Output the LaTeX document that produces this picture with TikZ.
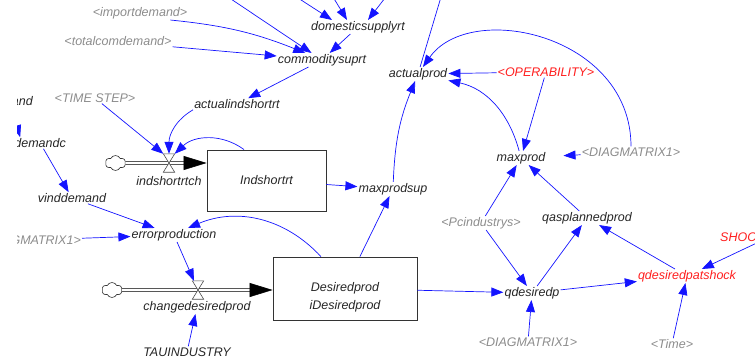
\documentclass[tikz,border=0pt]{standalone}
\usepackage{fontspec}
\setmainfont{Liberation Sans}
\usetikzlibrary{arrows.meta}
\usetikzlibrary{shapes.symbols}
\definecolor{vgray}{RGB}{140,140,140}
\definecolor{vred}{RGB}{255,30,30}
\definecolor{vblue}{RGB}{20,20,255}

\begin{document}
\begin{tikzpicture}[x=1pt,y=1pt,
  >={Triangle[length=12pt,width=9pt]},
  var/.style={inner sep=1pt,font=\fontsize{12.5}{15}\selectfont\itshape,text=black!85},
  shadowvar/.style={var,text=vgray},
  shockvar/.style={var,text=vred},
  stock/.style={draw=black!80,line width=0.8pt,inner sep=0pt,font=\fontsize{12.5}{15}\selectfont\itshape,text=black!85},
  link/.style={->,vblue,line width=0.7pt},
  pipe/.style={draw=black!75,line width=0.6pt,double=white,double distance=2.4pt},
  pipehead/.style={-{Triangle[length=23pt,width=14pt]},black,line width=0.6pt},
  gate/.style={minimum width=11pt,minimum height=18pt,inner sep=0pt},
  bowtie/.style={draw=black!70,fill=white,line width=0.6pt},
  source/.style={cloud,cloud puffs=6,cloud puff arc=130,aspect=1.3,draw=black!80,fill=white,line width=0.6pt,minimum width=20pt,minimum height=15pt,inner sep=0pt}]
\useasboundingbox (0,0) rectangle (755,360);
\clip (17,0) rectangle (755,360);

\node [shadowvar] (importdemand) at (140,347) {<importdemand>};
\node [shadowvar] (totalcomdemand) at (118,319) {<totalcomdemand>};
\node [var] (domesticsupplyrt) at (358,333) {domesticsupplyrt};
\node [var] (commoditysuprt) at (322,300) {commoditysuprt};
\node [var] (actualindshortrt) at (237,256) {actualindshortrt};
\node [shadowvar] (timestep) at (95,262) {<TIME STEP>};
\node [var,anchor=east] (andcut) at (34,259) {and};
\node [var,anchor=east] (demandc) at (67,217) {demandc};
\node [var] (vinddemand) at (72,162) {vinddemand};
\node [shadowvar,anchor=east] (diagleft) at (82,120) {<DIAGMATRIX1>};
\node [var] (errorproduction) at (174,125) {errorproduction};
\node [var] (changedesiredprod) at (197,53) {changedesiredprod};
\node [var] (tauindustry) at (187,8) {TAUINDUSTRY};
\node [var] (indshortrtch) at (169,179) {indshortrtch};
\node [var] (maxprodsup) at (393,171) {maxprodsup};
\node [var] (actualprod) at (418,286) {actualprod};
\node [shockvar] (operability) at (546,288) {<OPERABILITY>};
\node [var] (maxprod) at (521,202) {maxprod};
\node [shadowvar] (diagright) at (631,208) {<DIAGMATRIX1>};
\node [shadowvar] (pcindustrys) at (481,137) {<Pcindustrys>};
\node [var] (qasplannedprod) at (587,142) {qasplannedprod};
\node [var] (qdesiredp) at (532,67) {qdesiredp};
\node [shockvar] (qdesiredpatshock) at (687,84) {qdesiredpatshock};
\node [shockvar,anchor=west] (shockcut) at (719,123) {SHOC};
\node [shadowvar] (diagbottom) at (528,18) {<DIAGMATRIX1>};
\node [shadowvar] (time) at (672,16) {<Time>};

\node [stock,minimum width=119pt,minimum height=61pt] (Indshortrt) at (266.5,179.5) {Indshortrt};
\node [stock,minimum width=144pt,minimum height=63pt] (Desiredprod) at (345,71.5) {};
\node [var,align=center,font=\fontsize{12.5}{18}\selectfont\itshape] (Desiredlabel) at (345,63) {Desiredprod\\iDesiredprod};
\node [gate] (indvalve) at (169,197) {};
\node [gate] (desvalve) at (198,70) {};
\node [source] (cloudA) at (115.5,197) {};
\node [source] (cloudB) at (112,70) {};
\coordinate (indin) at (cloudA -| Indshortrt.west);
\coordinate (desin) at (cloudB -| Desiredprod.west);
\coordinate (topA) at (228,363);
\coordinate (topB) at (298,362);
\coordinate (topC) at (333,363);
\coordinate (topD) at (385,362);
\coordinate (topE) at (441,363);

\draw [pipe] (cloudA.east) -- ([xshift=-21pt]indin);
\draw [pipehead] ([xshift=-23pt]indin) -- (indin);
\draw [bowtie] (indvalve.north west) -- (indvalve.north east) -- (indvalve.south west) -- (indvalve.south east) -- cycle;
\draw [pipe] (cloudB.east) -- ([xshift=-21pt]desin);
\draw [pipehead] ([xshift=-23pt]desin) -- (desin);
\draw [bowtie] (desvalve.north west) -- (desvalve.north east) -- (desvalve.south west) -- (desvalve.south east) -- cycle;

\draw [link] (topA) -- (commoditysuprt);
\draw [link] (topB) -- ([xshift=-26pt]domesticsupplyrt.north);
\draw [link] (topC) -- ([xshift=-11pt]domesticsupplyrt.north);
\draw [link] (topD) -- ([xshift=10pt]domesticsupplyrt.north);
\draw [link] ([xshift=-18pt]importdemand.south east) to [bend left=8] (commoditysuprt);
\draw [link] (totalcomdemand.south east) -- (commoditysuprt);
\draw [link] (domesticsupplyrt) -- (commoditysuprt);
\draw [link] (commoditysuprt) -- (actualindshortrt);
\draw [link] (actualindshortrt.south west) to [out=210,in=90] (indvalve.north);
\draw [link] (timestep) -- (indvalve.north west);
\draw [link] (Indshortrt.126) to [bend right=40] (indvalve.north east);
\draw [link] (Indshortrt) -- (maxprodsup);
\draw [link] (Desiredprod.65) -- (maxprodsup);
\draw [link] (Desiredprod.127) to [bend right=35] (errorproduction);
\draw [link] (vinddemand) -- (errorproduction);
\draw [link] (diagleft) -- (errorproduction);
\draw [link] (errorproduction) -- (desvalve);
\draw [link] (tauindustry) -- (changedesiredprod);
\draw [link] (demandc) -- (vinddemand);
\draw [link] (andcut.south west) -- ([xshift=7pt]demandc.north west);
\draw [link] (Desiredprod) -- (qdesiredp);
\draw [link] (maxprodsup) to [bend left=10] (actualprod);
\draw [vblue,line width=0.7pt] (topE) -- (actualprod);
\draw [link] (diagright.north) .. controls +(0,112) and +(52,74) .. (actualprod);
\draw [link] (operability) -- (actualprod);
\draw [link] (maxprod) to [out=105,in=-12] (actualprod);
\draw [link] (operability) -- (maxprod);
\draw [link,shorten >=17pt] (diagright) -- (maxprod);
\draw [link] (pcindustrys) -- (maxprod);
\draw [link] (qasplannedprod) -- (maxprod);
\draw [link] (pcindustrys) -- (qdesiredp);
\draw [link] (qdesiredp) -- (qasplannedprod);
\draw [link] (qdesiredpatshock) -- (qasplannedprod);
\draw [link] (qdesiredp) -- (qdesiredpatshock);
\draw [link] (shockcut.south east) -- (qdesiredpatshock);
\draw [link] (diagbottom) -- (qdesiredp);
\draw [link] (time) -- (qdesiredpatshock);

\end{tikzpicture}
\end{document}
